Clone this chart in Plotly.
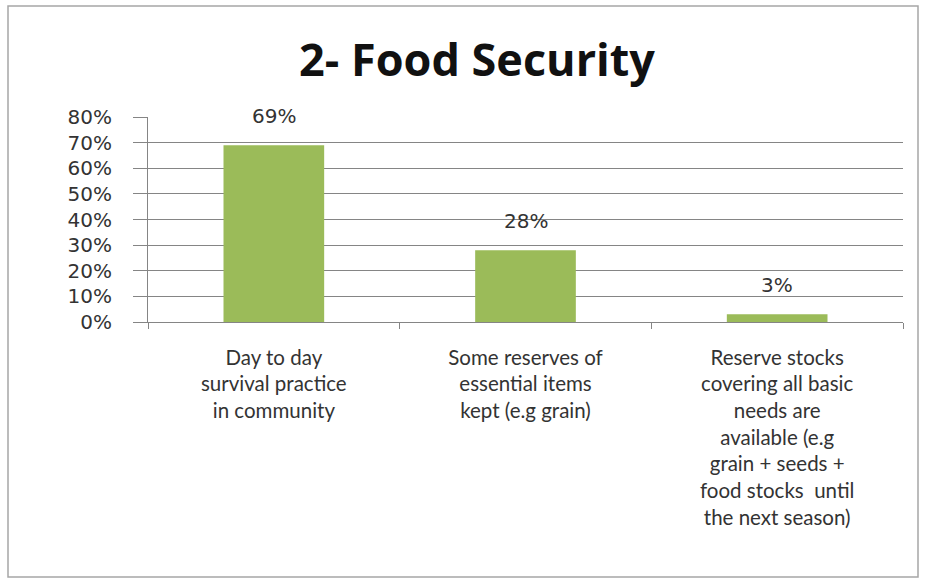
import plotly.graph_objects as go

# Survey responses on household food security
categories = [
    "Day to day<br>survival practice<br>in community",
    "Some reserves of<br>essential items<br>kept (e.g grain)",
    "Reserve stocks<br>covering all basic<br>needs are<br>available (e.g<br>grain + seeds +<br>food stocks  until<br>the next season)",
]
shares = [0.69, 0.28, 0.03]
y_ticks = [0.0, 0.1, 0.2, 0.3, 0.4, 0.5, 0.6, 0.7, 0.8]

W, H = 932, 581
L, R, T, B = 148, 29, 117, 259
plot_w, plot_h = W - L - R, H - T - B

BAR = "#9BBB59"
GRID = "#858585"
TEXT = "#333333"

fig = go.Figure(
    go.Bar(
        x=categories,
        y=shares,
        marker=dict(color=BAR, line=dict(width=0)),
        hoverinfo="skip",
    )
)

# value labels above each bar
for c, v in zip(categories, shares):
    fig.add_annotation(
        x=c, y=v, text=f"{round(v * 100)}%", showarrow=False,
        yanchor="bottom", yshift=15,
        font=dict(family="DejaVu Sans", size=20, color=TEXT),
    )

# outer chart frame
def px_to_paper_x(px):
    return (px - L) / plot_w

def px_to_paper_y(py):
    return (H - B - py) / plot_h

fig.add_shape(
    type="rect", xref="paper", yref="paper",
    x0=px_to_paper_x(8), x1=px_to_paper_x(918),
    y0=px_to_paper_y(577), y1=px_to_paper_y(6),
    line=dict(color="#A6A6A6", width=1.5), fillcolor="rgba(0,0,0,0)",
    layer="below",
)

fig.update_layout(
    width=W, height=H,
    margin=dict(l=L, r=R, t=T, b=B, autoexpand=False),
    paper_bgcolor="white", plot_bgcolor="white",
    bargap=0.6,
    showlegend=False,
    title=dict(
        text="<b>2- Food Security</b>",
        x=(477) / W, xanchor="center",
        y=1 - 60 / H, yanchor="middle",
        font=dict(family="Open Sans", size=45, color="#111111"),
    ),
    xaxis=dict(
        type="category",
        tickson="boundaries",
        ticks="outside", ticklen=6, tickcolor=GRID, tickwidth=1,
        showline=True, linecolor=GRID, linewidth=1,
        showgrid=False,
        tickfont=dict(family="Lato", size=20.5, color=TEXT),
        tickangle=0,
        ticklabelstandoff=17,
    ),
    yaxis=dict(
        range=[0, 0.8],
        tickvals=y_ticks,
        tickformat=".0%",
        ticks="outside", ticklen=14, tickcolor=GRID, tickwidth=1,
        showline=True, linecolor=GRID, linewidth=1,
        showgrid=True, gridcolor=GRID, gridwidth=1,
        zeroline=False,
        tickfont=dict(family="DejaVu Sans", size=20, color=TEXT),
        ticklabelstandoff=17,
    ),
)

fig.write_html("out.html")
